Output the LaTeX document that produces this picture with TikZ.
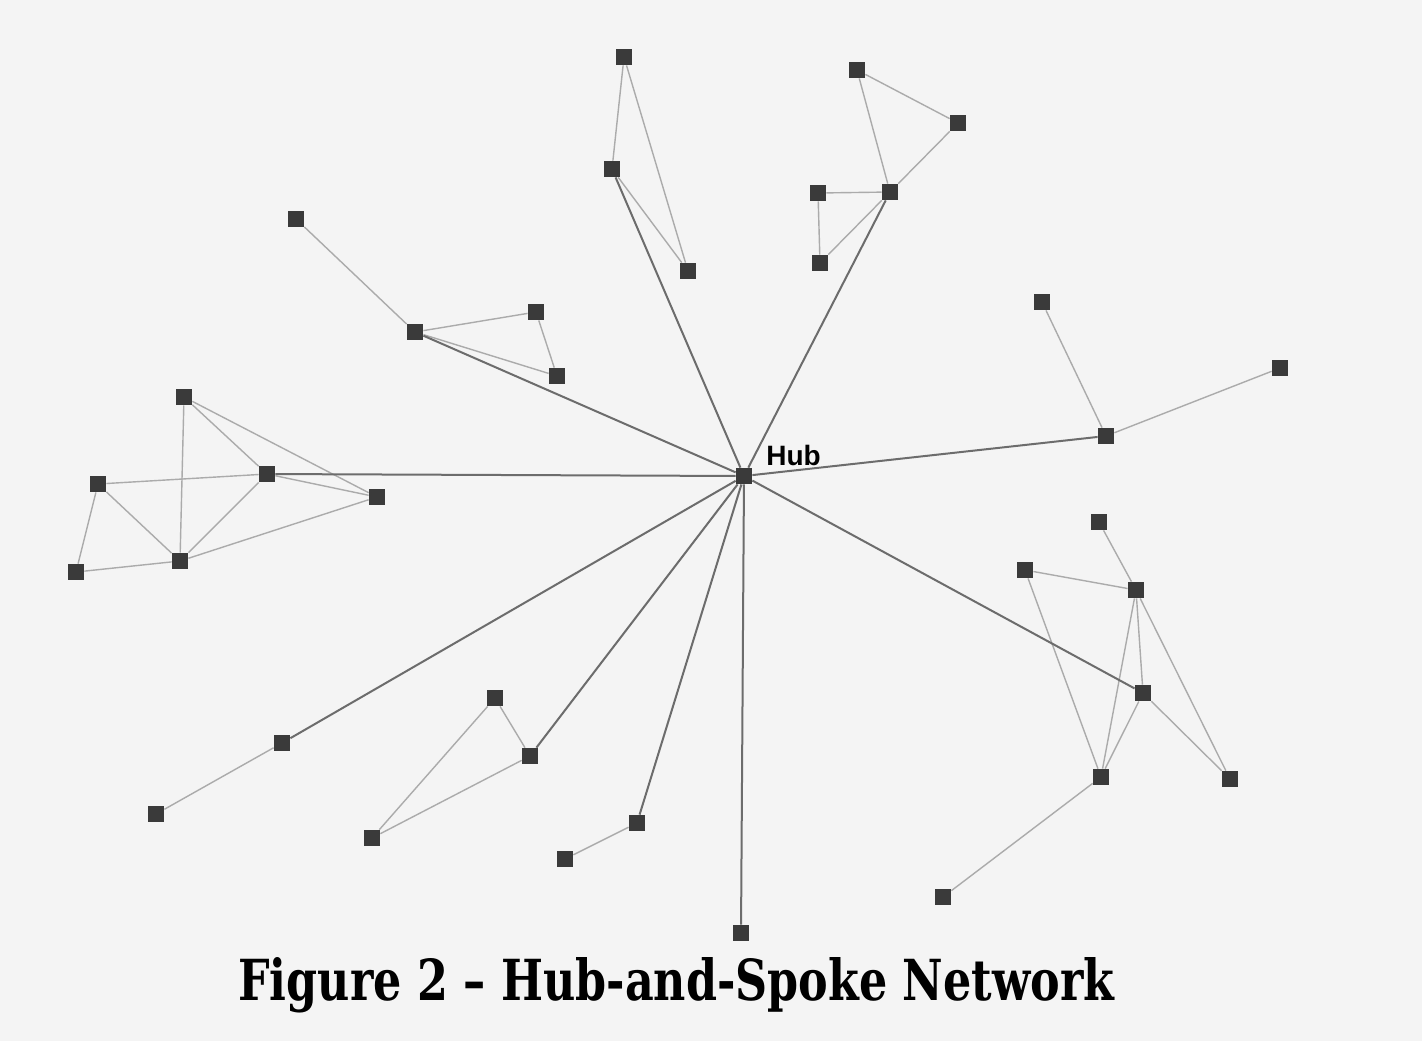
\documentclass[tikz,border=0pt]{standalone}
\usepackage{fontspec}
\setmainfont{DejaVu Serif}
\newfontfamily\labelfont{Liberation Sans}
\usetikzlibrary{backgrounds}
\definecolor{paper}{HTML}{F4F4F4}
\definecolor{vertex}{HTML}{3A3A3A}
\definecolor{tie}{HTML}{ABABAB}
\definecolor{spoke}{HTML}{6C6C6C}
\tikzset{
  actor/.style={rectangle, fill=vertex, draw=none, minimum size=8pt, inner sep=0pt},
  tie/.style={draw=tie, line width=0.7pt},
  spoke/.style={draw=spoke, line width=1pt},
}
\begin{document}
\begin{tikzpicture}[x=0.5pt, y=-0.5pt]
  \useasboundingbox (0,0) rectangle (1422,1041);

  % hub
  \node[actor] (H) at (744,476) {};
  \node[anchor=base west, inner sep=0pt, font=\labelfont\bfseries\fontsize{14pt}{16pt}\selectfont]
    (hublabel) at (766,465) {Hub};

  % top-left triangle
  \node[actor] (a1) at (624,57) {};
  \node[actor] (a2) at (612,169) {};
  \node[actor] (a3) at (688,271) {};

  % top-right cluster
  \node[actor] (b1) at (857,70) {};
  \node[actor] (b2) at (958,123) {};
  \node[actor] (b3) at (890,192) {};
  \node[actor] (b4) at (818,193) {};
  \node[actor] (b5) at (820,263) {};

  % upper-left cluster
  \node[actor] (c1) at (296,219) {};
  \node[actor] (c2) at (415,332) {};
  \node[actor] (c3) at (536,312) {};
  \node[actor] (c4) at (557,376) {};

  % left cluster
  \node[actor] (d1) at (184,397) {};
  \node[actor] (d2) at (98,484) {};
  \node[actor] (d3) at (267,474) {};
  \node[actor] (d4) at (377,497) {};
  \node[actor] (d5) at (76,572) {};
  \node[actor] (d6) at (180,561) {};

  % right group
  \node[actor] (e1) at (1042,302) {};
  \node[actor] (e2) at (1280,368) {};
  \node[actor] (e3) at (1106,436) {};

  % lower-right cluster
  \node[actor] (f1) at (1099,522) {};
  \node[actor] (f2) at (1025,570) {};
  \node[actor] (f3) at (1136,590) {};
  \node[actor] (f4) at (1143,693) {};
  \node[actor] (f5) at (1101,777) {};
  \node[actor] (f6) at (1230,779) {};
  \node[actor] (g)  at (943,897) {};

  % lower-left pair
  \node[actor] (h1) at (282,743) {};
  \node[actor] (h2) at (156,814) {};

  % lower-middle triangle
  \node[actor] (i1) at (495,698) {};
  \node[actor] (i2) at (530,756) {};
  \node[actor] (i3) at (372,838) {};

  % bottom pair and single
  \node[actor] (j1) at (637,823) {};
  \node[actor] (j2) at (565,859) {};
  \node[actor] (k)  at (741,933) {};

  % caption
  \node[anchor=base west, inner sep=0pt] (caption) at (238,1000)
    {\resizebox{438pt}{21.5pt}{\bfseries Figure 2 – Hub-and-Spoke Network}};

  \begin{pgfonlayer}{background}
    \fill[paper] (0,0) rectangle (1422,1041);
    % ties inside the groups
    \draw[tie] (a1) -- (a2) (a1) -- (a3) (a2) -- (a3);
    \draw[tie] (b1) -- (b2) (b1) -- (b3) (b2) -- (b3) (b3) -- (b4) (b4) -- (b5) (b3) -- (b5);
    \draw[tie] (c1) -- (c2) (c2) -- (c3) (c3) -- (c4) (c2) -- (c4);
    \draw[tie] (d1) -- (d6) (d1) -- (d3) (d1) -- (d4) (d3) -- (d4) (d2) -- (d3)
               (d2) -- (d6) (d2) -- (d5) (d5) -- (d6) (d6) -- (d3) (d6) -- (d4);
    \draw[tie] (e1) -- (e3) (e2) -- (e3);
    \draw[tie] (f1) -- (f3) (f2) -- (f3) (f2) -- (f5) (f3) -- (f4) (f3) -- (f5)
               (f3) -- (f6) (f4) -- (f5) (f4) -- (f6) (f5) -- (g);
    \draw[tie] (h1) -- (h2);
    \draw[tie] (i1) -- (i2) (i1) -- (i3) (i2) -- (i3);
    \draw[tie] (j1) -- (j2);
    % spokes from the hub
    \draw[spoke] (H) -- (a2) (H) -- (b3) (H) -- (c2) (H) -- (d3) (H) -- (e3)
                 (H) -- (f4) (H) -- (h1) (H) -- (i2) (H) -- (j1) (H) -- (k);
  \end{pgfonlayer}
\end{tikzpicture}
\end{document}
